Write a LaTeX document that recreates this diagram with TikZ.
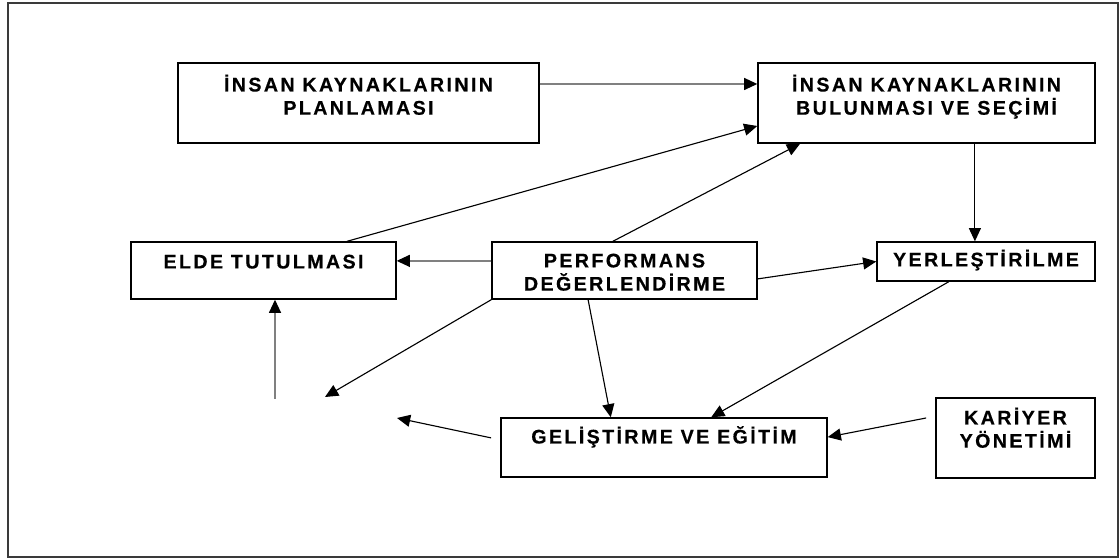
\documentclass[tikz,border=0pt]{standalone}
\usepackage{fontspec}
\usetikzlibrary{arrows.meta}
\newfontfamily\boxfont{Liberation Sans}[LetterSpace=12, BoldFeatures={FakeBold=0.4}]
\definecolor{greyline}{HTML}{808080}
\definecolor{framegrey}{HTML}{3A3A3A}
\tikzset{
	box/.style={draw, line width=1pt, align=center, inner sep=0pt,
		text height=9pt, text depth=2pt,
		font=\boxfont\bfseries\fontsize{14}{16.5}\selectfont},
	arr/.style={-{Triangle[length=3.3mm, width=3mm]}, line width=0.8pt},
	garr/.style={-{Triangle[length=3.3mm, width=3mm, color=black]}, line width=1pt, greyline},
}

\begin{document}
\begin{tikzpicture}
	\useasboundingbox (0,0) rectangle (27.975,13.95);
	\draw[framegrey, line width=1.4pt] (0.2,0.025) rectangle (27.95,13.875);
	% boxes
	\node[box, minimum width=9.025cm, minimum height=2cm, text height=18.6pt] (plan) at (8.9625,11.375) {İNSAN KAYNAKLARININ\\PLANLAMASI};
	\node[box, minimum width=8.425cm, minimum height=2cm, text height=18.6pt] (find) at (23.1625,11.375) {İNSAN KAYNAKLARININ\\BULUNMASI VE SEÇİMİ};
	\node[box, minimum width=6.625cm, minimum height=1.425cm, text depth=11.9pt] (keep) at (6.5875,7.1875) {ELDE TUTULMASI};
	\node[box, minimum width=6.625cm, minimum height=1.425cm, text height=30.6pt] (perf) at (15.6125,7.1875) {PERFORMANS\\DEĞERLENDİRME};
	\node[box, minimum width=5.45cm, minimum height=0.975cm] (place) at (24.65,7.4125) {YERLEŞTİRİLME};
	\node[box, minimum width=8.15cm, minimum height=1.475cm, text depth=14.7pt] (dev) at (16.6,2.7625) {GELİŞTİRME VE EĞİTİM};
	\node[box, minimum width=3.975cm, minimum height=2cm, text height=15.8pt] (career) at (25.3875,3) {KARİYER\\YÖNETİMİ};
	% loose ends
	\coordinate (lostA) at (8.125,4.025);
	\coordinate (lostB) at (6.875,3.975);
	\coordinate (lostC) at (9.925,3.5);
	% connectors
	\draw[garr] ([yshift=4.75mm]plan.east) -- ([yshift=4.75mm]find.west);
	\draw[arr] ([xshift=20.9mm]keep.north) -- ([yshift=-5.75mm]find.west);
	\draw[garr] ([yshift=2.4mm]perf.west) -- ([yshift=2.4mm]keep.east);
	\draw[arr] ([xshift=-2.9mm]perf.north) -- ([xshift=-31.6mm]find.south);
	\draw[arr] ([xshift=12.1mm]find.south) -- ([xshift=12.1mm]find.south |- place.north);
	\draw[arr] ([yshift=-2.1mm]perf.east) -- (place.west);
	\draw[arr] ([xshift=-9.1mm]perf.south) -- ([xshift=-13.3mm]dev.north);
	\draw[arr] ([xshift=-9.3mm]place.south) -- ([xshift=11.8mm]dev.north);
	\draw[arr] ([xshift=-2.3mm, yshift=5mm]career.west) -- ([yshift=2.6mm]dev.east);
	\draw[arr] (perf.south west) -- (lostA);
	\draw[garr] (lostB) -- (lostB |- keep.south);
	\draw[arr] ([xshift=-2.3mm, yshift=2.4mm]dev.west) -- (lostC);
\end{tikzpicture}
\end{document}
